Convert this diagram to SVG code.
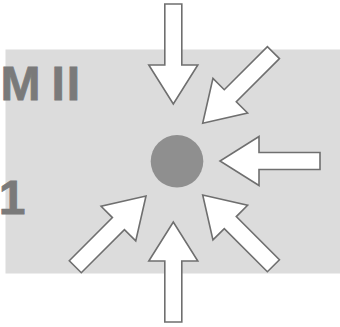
<svg xmlns="http://www.w3.org/2000/svg" xmlns:xlink="http://www.w3.org/1999/xlink" width="340" height="327" viewBox="0 0 340 327">
  <style>
    .lbl { font-family: "Liberation Sans", Arial, sans-serif; font-weight: bold; font-size: 48px; fill: #7a7a7a; stroke: #7a7a7a; stroke-width: 0.8; }
    .arrow { fill: #ffffff; stroke: #6f6f6f; stroke-width: 1.6; stroke-linejoin: miter; }
  </style>
  <defs>
    <polygon id="arr" class="arrow" points="-100,-8.5 -39,-8.5 -39,-24.5 0,0 -39,24.5 -39,8.5 -100,8.5"/>
  </defs>
  <rect x="5.5" y="49.5" width="335" height="224" fill="#dcdcdc"/>
  <g id="label-m2"><text class="lbl" y="99.5"><tspan x="0.5">M</tspan><tspan x="51.5"> </tspan><tspan x="51.6">I</tspan><tspan x="66.8">I</tspan></text></g>
  <g id="label-1"><text class="lbl" x="-1.2" y="214">1</text></g>
  <g id="center"><circle cx="177" cy="161.3" r="26.3" fill="#8f8f8f"/></g>
  <g id="connectors">
    <use xlink:href="#arr" transform="translate(173.3,104) rotate(90)"/>
    <use xlink:href="#arr" transform="translate(202.7,123.3) rotate(135)"/>
    <use xlink:href="#arr" transform="translate(220,161) rotate(180)"/>
    <use xlink:href="#arr" transform="translate(202.7,195) rotate(-135)"/>
    <use xlink:href="#arr" transform="translate(173.3,222) rotate(-90)"/>
    <use xlink:href="#arr" transform="translate(146,196) rotate(-45)"/>
  </g>
</svg>
